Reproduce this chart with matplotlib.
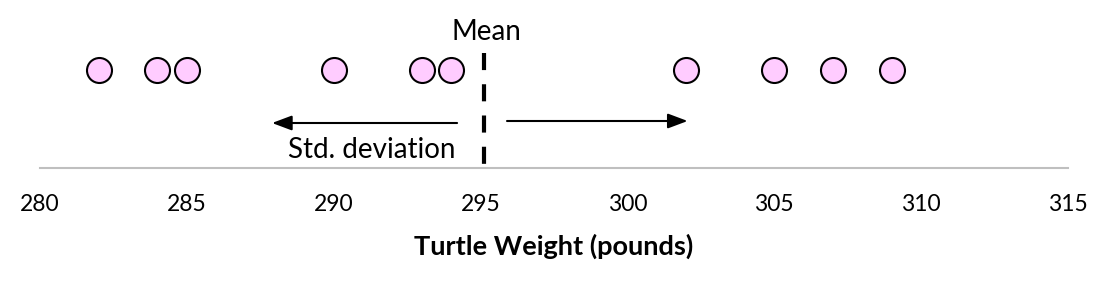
import numpy as np
import matplotlib.pyplot as plt

# data
weights = [282, 284, 285, 290, 293, 294, 302, 305, 307, 309]
ticks = [280, 285, 290, 295, 300, 305, 310, 315]
xlabel = 'Turtle Weight (pounds)'

# arrow spans: (tail, tip)
left_arrow = (294.2, 287.9)
right_arrow = (295.9, 302.05)

plt.rcParams['font.family'] = ['Lato', 'DejaVu Sans']

W, H = 1110, 295
fig = plt.figure(figsize=(W / 100, H / 100), dpi=100)
axis_y = 168  # pixel row of the axis line
ax = fig.add_axes([40 / W, (H - axis_y) / H, 1028 / W, axis_y / H])
ax.set_xlim(280, 315)
ax.set_ylim(0, axis_y)  # y measured in pixels above the axis line

mean = np.mean(weights)

ax.scatter(weights, [axis_y - 69.5] * len(weights), s=18 ** 2,
           facecolor='#FFCCFF', edgecolor='black', linewidth=1.5, zorder=3)

# dashed mean line, drawn top-down so the dash pattern starts at the top
ax.plot([mean, mean], [axis_y - 53, 0], color='black', linewidth=3,
        dashes=(4.1, 3.4), clip_on=False)
ax.text(mean + 0.1, axis_y - 32, 'Mean', ha='center', va='center', fontsize=20)

arrow_kw = dict(arrowstyle='-|>,head_length=1.2,head_width=0.45', color='black',
                lw=1.5, shrinkA=0, shrinkB=0)
ax.annotate('', xy=(left_arrow[1], axis_y - 123), xytext=(left_arrow[0], axis_y - 123),
            arrowprops=arrow_kw)
ax.annotate('', xy=(right_arrow[1], axis_y - 121), xytext=(right_arrow[0], axis_y - 121),
            arrowprops=arrow_kw)
ax.text(291.3, axis_y - 150, 'Std. deviation', ha='center', va='center', fontsize=20)

for s in ['top', 'right', 'left']:
    ax.spines[s].set_visible(False)
ax.spines['bottom'].set_color('#BFBFBF')
ax.spines['bottom'].set_linewidth(1.5)
ax.set_yticks([])
ax.set_xticks(ticks)
ax.tick_params(axis='x', length=0, pad=19, labelsize=16.5)
ax.set_xlabel(xlabel, fontsize=19.5, fontweight='bold', labelpad=13)

fig.savefig('out.png', dpi=100)
